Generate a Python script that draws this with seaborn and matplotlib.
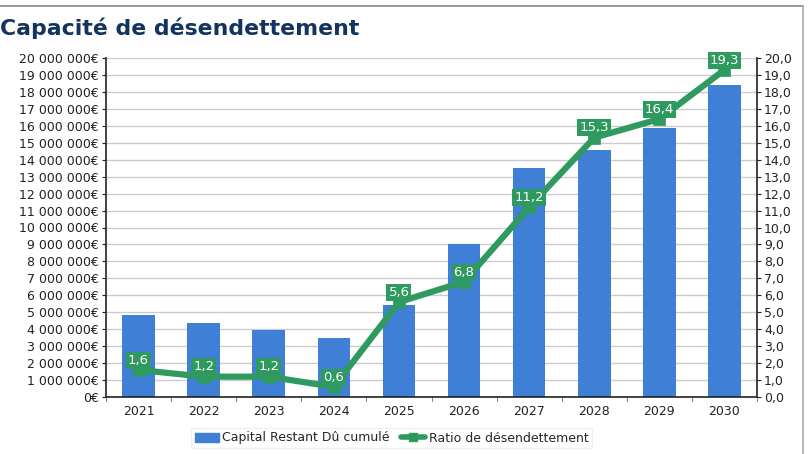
import matplotlib
matplotlib.use("Agg")
import matplotlib.pyplot as plt
from matplotlib.lines import Line2D
from matplotlib.patches import Patch
import seaborn as sns
import pandas as pd

years = ["2021", "2022", "2023", "2024", "2025", "2026", "2027", "2028", "2029", "2030"]
capital = [4.84e6, 4.37e6, 3.95e6, 3.48e6, 5.43e6, 9.0e6, 13.5e6, 14.57e6, 15.87e6, 18.4e6]
ratio = [1.6, 1.2, 1.2, 0.6, 5.6, 6.8, 11.2, 15.3, 16.4, 19.3]
ratio_labels = ["1,6", "1,2", "1,2", "0,6", "5,6", "6,8", "11,2", "15,3", "16,4", "19,3"]

BLUE = "#3f7fd6"
GREEN = "#2e9a5f"
NAVY = "#12345e"

sns.set_style("white")
plt.rcParams["font.family"] = ["DejaVu Sans"]

df = pd.DataFrame({"year": years, "capital": capital, "ratio": ratio})

fig = plt.figure(figsize=(8.11, 4.54), dpi=100)
ax = fig.add_axes([106 / 811, 1 - 397 / 454, (757 - 106) / 811, (397 - 58) / 454])

sns.barplot(data=df, x="year", y="capital", color=BLUE, width=0.5,
            saturation=1, linewidth=0, ax=ax, zorder=2)
ax.set_ylim(0, 20e6)
ax.set_xlim(-0.5, 9.5)
ax.set_yticks([i * 1e6 for i in range(21)])
ax.set_yticklabels(["0€"] + [f"{i} 000 000€" for i in range(1, 21)])
ax.set_xlabel("")
ax.set_ylabel("")
ax.yaxis.grid(True, color="#cccccc", linewidth=1, zorder=0)
ax.set_axisbelow(True)
ax.tick_params(axis="y", labelsize=9, length=3, pad=2, colors="#222222")
ax.tick_params(axis="x", labelsize=9, length=0, pad=6, colors="#222222")
for x in [i + 0.5 for i in range(-1, 10)]:
    ax.plot([x, x], [0, -0.012], transform=ax.get_xaxis_transform(),
            color="#888888", linewidth=0.8, clip_on=False)
for s in ["left", "bottom"]:
    ax.spines[s].set_color("#222222")
    ax.spines[s].set_linewidth(1.2)
ax.spines["top"].set_visible(False)
ax.spines["right"].set_visible(False)

ax2 = ax.twinx()
sns.pointplot(data=df, x="year", y="ratio", color=GREEN, markers="s",
              markersize=6, linewidth=4.5, ax=ax2)
ax2.set_ylim(0, 20)
ax2.set_xlim(-0.5, 9.5)
ax2.set_yticks(range(21))
ax2.set_yticklabels([f"{i},0" for i in range(21)])
ax2.set_ylabel("")
ax2.tick_params(axis="y", labelsize=9, length=3, pad=2, colors="#222222")
for s in ["top", "left", "bottom"]:
    ax2.spines[s].set_visible(False)
ax2.spines["right"].set_color("#222222")
ax2.spines["right"].set_linewidth(1.2)

for i, (v, lab) in enumerate(zip(ratio, ratio_labels)):
    ax2.annotate(lab, (i, v), xytext=(0, 7), textcoords="offset points",
                 ha="center", va="center", fontsize=9.5, color="white",
                 bbox=dict(boxstyle="square,pad=0.15", fc=GREEN, ec="none"),
                 zorder=5)

handles = [Patch(color=BLUE, label="Capital Restant Dû cumulé"),
           Line2D([0], [0], color=GREEN, linewidth=4, marker="s", markersize=6,
                  label="Ratio de désendettement")]
fig.legend(handles=handles, loc="center", bbox_to_anchor=(0.483, 1 - 438 / 454),
           ncol=2, frameon=True, fontsize=9, handlelength=1.9,
           columnspacing=0.9, handletextpad=0.3, borderpad=0.3,
           edgecolor="#eeeeee", fancybox=False)

fig.text(0.0, 1 - 28 / 454, "Capacité de désendettement", fontsize=15.8,
         fontweight="bold", color=NAVY, ha="left", va="center")

fig.add_artist(Line2D([0, 803 / 811], [1 - 5.5 / 454, 1 - 5.5 / 454],
                      transform=fig.transFigure, color="#888888", linewidth=1.2))
fig.add_artist(Line2D([803 / 811, 803 / 811], [1 - 5.5 / 454, 0],
                      transform=fig.transFigure, color="#aaaaaa", linewidth=1.2))

fig.savefig("out.png", dpi=100)
